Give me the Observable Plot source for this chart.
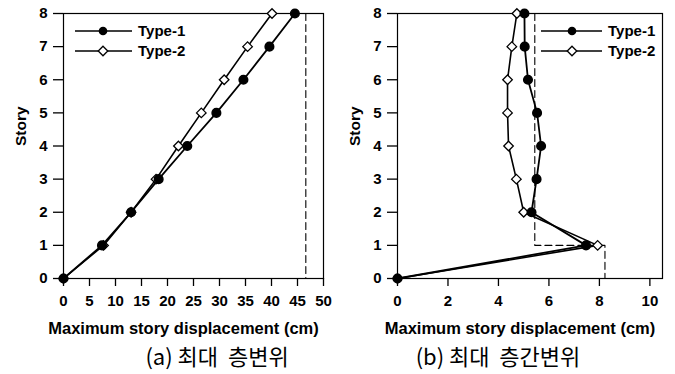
<!DOCTYPE html>
<html>
<head>
<meta charset="utf-8">
<script src="https://cdn.jsdelivr.net/npm/d3@7"></script>
<script src="https://cdn.jsdelivr.net/npm/@observablehq/plot@0.6"></script>
<style>
  html, body { margin: 0; padding: 0; background: #fff; }
  #wrap { position: relative; width: 675px; height: 374px; overflow: hidden; }
  .panel { position: absolute; top: 0; }
  .sub { position: absolute; top: 340px; width: 240px; text-align: center; white-space: pre;
         font-family: "Noto Sans CJK KR", sans-serif; font-size: 22px; font-weight: 400; color: #000; line-height: 30px; }
  .legend { position: absolute; top: 0; left: 0; overflow: visible; }
</style>
</head>
<body>
<div id="wrap"></div>
<script>
// ---- data ----
const stories = [0, 1, 2, 3, 4, 5, 6, 7, 8];
const seriesNames = ["Type-1", "Type-2"];
// (a) maximum story displacement (cm)
const aType1 = [0, 7.4, 13.0, 18.3, 23.8, 29.4, 34.6, 39.6, 44.5];
const aType2 = [0, 7.7, 13.0, 17.8, 22.1, 26.5, 30.9, 35.4, 40.1];
const aLimitX = [46.6, 46.6];
const aLimitY = [8, 0];
const aTicks = [0, 5, 10, 15, 20, 25, 30, 35, 40, 45, 50];
// (b) maximum inter-story drift (cm)
const bType1 = [0, 7.47, 5.31, 5.51, 5.69, 5.53, 5.17, 5.04, 5.03];
const bType2 = [0, 7.93, 5.0, 4.71, 4.4, 4.36, 4.36, 4.53, 4.73];
const bLimitX = [5.44, 5.44, 8.22, 8.22];
const bLimitY = [8, 1, 1, 0];
const bTicks = [0, 2, 4, 6, 8, 10];
const yTicks = [0, 1, 2, 3, 4, 5, 6, 7, 8];
const xLabel = "Maximum story displacement (cm)";
const yLabel = "Story";
const subtitles = ["(a) 최대  층변위", "(b) 최대  층간변위"];

const H = 340;
function panel({left, width, marginLeft, marginRight, domain, ticks, t1, t2, limX, limY}) {
  const d1 = stories.map((s, i) => ({x: t1[i], y: s}));
  const d2 = stories.map((s, i) => ({x: t2[i], y: s}));
  const lim = limX.map((x, i) => ({x, y: limY[i]}));
  const chart = Plot.plot({
    width, height: H,
    marginLeft, marginRight, marginTop: 13, marginBottom: H - 278,
    style: {fontFamily: "'Liberation Sans', Arial, sans-serif", fontWeight: "bold", fontSize: "15px", color: "#000", background: "transparent"},
    x: {domain, ticks},
    y: {domain: [0, 8], ticks: yTicks},
    marks: [
      Plot.frame({stroke: "#000", strokeWidth: 1.2}),
      Plot.axisX({ticks, tickSize: 8, tickPadding: 9, label: null, strokeWidth: 1.3}),
      Plot.axisY({ticks: yTicks, tickSize: 10, tickPadding: 6, label: null, strokeWidth: 1.3}),
      Plot.line(lim, {x: "x", y: "y", stroke: "#000", strokeWidth: 1.1, strokeDasharray: "7,4"}),
      Plot.line(d2, {x: "x", y: "y", stroke: "#000", strokeWidth: 1.6}),
      Plot.line(d1, {x: "x", y: "y", stroke: "#000", strokeWidth: 1.8}),
      Plot.dot(d2, {x: "x", y: "y", symbol: "diamond2", r: 4.3, fill: "#fff", stroke: "#000", strokeWidth: 1.3}),
      Plot.dot(d1, {x: "x", y: "y", symbol: "circle", r: 4.3, fill: "#000", stroke: "#000"}),
      Plot.text([xLabel], {frameAnchor: "bottom", dy: 50, dx: -10, text: d => d, fontSize: 16.5, fontWeight: "bold", lineAnchor: "middle"}),
      Plot.text([yLabel], {frameAnchor: "left", dx: -42, rotate: -90, text: d => d, fontSize: 15.5, fontWeight: "bold", lineAnchor: "middle"})
    ]
  });
  chart.classList.add("panel");
  chart.style.left = left + "px";
  return chart;
}

const wrap = document.getElementById("wrap");
wrap.appendChild(panel({left: 0, width: 337, marginLeft: 63, marginRight: 14, domain: [0, 50], ticks: aTicks, t1: aType1, t2: aType2, limX: aLimitX, limY: aLimitY}));
wrap.appendChild(panel({left: 337, width: 338, marginLeft: 60, marginRight: 13, domain: [0, 10.5], ticks: bTicks, t1: bType1, t2: bType2, limX: bLimitX, limY: bLimitY}));

// legends
function legend(x0, x1, xm, xt, rows) {
  const svg = d3.create("svg").attr("class", "legend").attr("width", 675).attr("height", 80);
  rows.forEach((name, i) => {
    const y = 31 + i * 20;
    const g = svg.append("g");
    g.append("line").attr("x1", x0).attr("x2", x1).attr("y1", y).attr("y2", y).attr("stroke", "#000").attr("stroke-width", 1.6);
    if (i === 0) g.append("circle").attr("cx", xm).attr("cy", y).attr("r", 4.3).attr("fill", "#000");
    else g.append("path").attr("d", d3.symbol(d3.symbolDiamond2, Math.PI * 4.3 * 4.3)()).attr("transform", `translate(${xm},${y})`).attr("fill", "#fff").attr("stroke", "#000").attr("stroke-width", 1.3);
    g.append("text").attr("x", xt).attr("y", y + 5).text(name)
      .attr("font-family", "'Liberation Sans', Arial, sans-serif").attr("font-weight", "bold").attr("font-size", 15);
  });
  return svg.node();
}
wrap.appendChild(legend(75, 132, 103, 138, seriesNames));
wrap.appendChild(legend(541, 602, 572, 608, seriesNames));

// subtitles
[[217, subtitles[0]], [498, subtitles[1]]].forEach(([cx, t]) => {
  const d = document.createElement("div");
  d.className = "sub";
  d.style.left = (cx - 120) + "px";
  d.textContent = t;
  wrap.appendChild(d);
});
</script>
</body>
</html>
